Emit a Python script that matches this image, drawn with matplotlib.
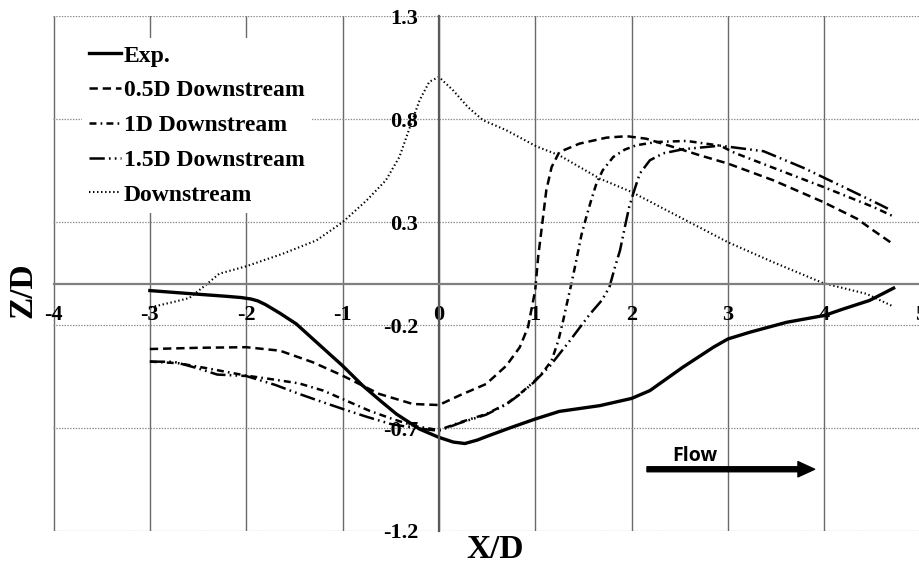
import matplotlib
matplotlib.use("Agg")
import matplotlib.pyplot as plt
import numpy as np

plt.rcParams['lines.scale_dashes'] = False

# ---------------- data ----------------
exp_x = [-3.0, -2.55, -2.2, -2.05, -1.95, -1.88, -1.8, -1.65, -1.48, -1.27, -1.0, -0.79, -0.6,
         -0.44, -0.2, 0.0, 0.15, 0.27, 0.4, 0.5, 0.75, 1.0, 1.25, 1.67, 2.0, 2.19, 2.53, 2.85,
         3.0, 3.23, 3.61, 4.0, 4.2, 4.47, 4.72]
exp_y = [-0.032, -0.048, -0.06, -0.066, -0.073, -0.082, -0.1, -0.142, -0.194, -0.283, -0.397,
         -0.494, -0.57, -0.632, -0.705, -0.745, -0.768, -0.775, -0.758, -0.74, -0.697, -0.656,
         -0.619, -0.591, -0.556, -0.518, -0.405, -0.307, -0.267, -0.234, -0.186, -0.153, -0.121,
         -0.08, -0.02]

d05_x = [-3.0, -2.5, -2.0, -1.65, -1.31, -1.0, -0.62, -0.27, 0.0, 0.22, 0.49, 0.70, 0.84,
         0.925, 1.0, 1.03, 1.06, 1.115, 1.17, 1.25, 1.46, 1.74, 1.95, 2.15, 2.43, 2.71, 3.0,
         3.47, 3.99, 4.34, 4.51, 4.72]
d05_y = [-0.316, -0.31, -0.307, -0.324, -0.38, -0.445, -0.534, -0.583, -0.588, -0.54, -0.486,
         -0.397, -0.307, -0.21, -0.03, 0.13, 0.244, 0.455, 0.568, 0.641, 0.682, 0.711, 0.718,
         0.706, 0.666, 0.625, 0.585, 0.504, 0.398, 0.317, 0.26, 0.192]

d1_x = [-3.0, -2.7, -2.4, -2.0, -1.7, -1.45, -1.2, -0.96, -0.72, -0.48, -0.25, 0.0, 0.22,
        0.49, 0.70, 0.84, 0.98, 1.08, 1.17, 1.24, 1.29, 1.32, 1.375, 1.43, 1.48, 1.53, 1.58,
        1.635, 1.70, 1.81, 1.93, 2.05, 2.26, 2.57, 2.92, 3.07, 3.54, 4.02, 4.51, 4.72]
d1_y = [-0.377, -0.385, -0.41, -0.445, -0.465, -0.483, -0.518, -0.567, -0.616, -0.656, -0.69,
        -0.71, -0.672, -0.632, -0.583, -0.534, -0.478, -0.429, -0.372, -0.275, -0.178, -0.113,
        0.0, 0.123, 0.239, 0.325, 0.406, 0.488, 0.552, 0.617, 0.653, 0.674, 0.69, 0.695, 0.672,
        0.637, 0.552, 0.466, 0.374, 0.328]

d15_x = [-3.0, -2.75, -2.5, -2.3, -2.0, -1.7, -1.45, -1.2, -0.96, -0.75, -0.5, -0.25, 0.0,
         0.22, 0.49, 0.70, 0.84, 0.98, 1.155, 1.36, 1.57, 1.69, 1.77, 1.825, 1.88, 1.93, 1.975,
         2.02, 2.085, 2.19, 2.33, 2.54, 2.92, 3.37, 3.78, 4.2, 4.58, 4.66]
d15_y = [-0.377, -0.378, -0.41, -0.44, -0.447, -0.49, -0.534, -0.575, -0.613, -0.645, -0.68,
         -0.70, -0.713, -0.675, -0.635, -0.585, -0.536, -0.48, -0.397, -0.275, -0.145, -0.08,
         -0.016, 0.078, 0.163, 0.276, 0.374, 0.443, 0.536, 0.601, 0.635, 0.655, 0.672, 0.645,
         0.565, 0.471, 0.385, 0.366]

ds_x = [-2.99, -2.76, -2.59, -2.42, -2.28, -2.0, -1.62, -1.27, -1.0, -0.75, -0.55, -0.41, -0.30,
        -0.20, -0.10, 0.0, 0.145, 0.30, 0.457, 0.70, 1.01, 1.25, 1.67, 2.0, 2.43, 3.0, 3.47,
        3.99, 4.44, 4.72]
ds_y = [-0.113, -0.088, -0.068, -0.005, 0.05, 0.086, 0.147, 0.212, 0.30, 0.406, 0.504, 0.617,
        0.763, 0.893, 0.982, 1.006, 0.942, 0.86, 0.796, 0.747, 0.669, 0.625, 0.512, 0.447,
        0.342, 0.203, 0.106, 0.004, -0.048, -0.11]

x_ticks = [-4, -3, -2, -1, 0, 1, 2, 3, 4, 5]
y_ticks = [-1.2, -0.7, -0.2, 0.3, 0.8, 1.3]
x_tick_labels = ['-4', '-3', '-2', '-1', '0', '1', '2', '3', '4', '5']
y_tick_labels = ['-1.2', '-0.7', '-0.2', '0.3', '0.8', '1.3']

labels = ['Exp.', '0.5D Downstream', '1D Downstream', '1.5D Downstream', 'Downstream']

arrow_start = (2.16, -0.90)
arrow_end = (3.90, -0.90)
flow_text_pos = (2.66, -0.835)

# ---------------- figure ----------------
serif = ['Liberation Serif', 'DejaVu Serif']
fig = plt.figure(figsize=(9.2, 5.65), dpi=100)
ax = fig.add_axes([53.5 / 920, 1 - 531 / 565, (920.6 - 53.5) / 920, (531 - 16.4) / 565])

ax.set_xlim(-4, 5)
ax.set_ylim(-1.2, 1.3)

ax.set_axisbelow(True)
ax.xaxis.grid(True, color='#6a6a6a', lw=1.0, ls='-')
ax.yaxis.grid(True, color='#8a8a8a', lw=0.9, ls=(0, (1, 1)))

for s in ['top', 'right']:
    ax.spines[s].set_visible(False)
ax.spines['left'].set_position(('data', 0))
ax.spines['bottom'].set_position(('data', 0))
ax.spines['left'].set_color('#5a5a5a')
ax.spines['left'].set_linewidth(1.6)
ax.spines['bottom'].set_color('#7f7f7f')
ax.spines['bottom'].set_linewidth(1.6)

ax.set_xticks(x_ticks)
ax.set_xticklabels(x_tick_labels)
ax.set_yticks(y_ticks)
ax.set_yticklabels(y_tick_labels)
ax.tick_params(length=0, pad=15)
for t in ax.get_xticklabels() + ax.get_yticklabels():
    t.set_family(serif)
    t.set_fontweight('bold')
    t.set_fontsize(16)

lw = 1.8
ax.plot(exp_x, exp_y, color='black', lw=2.4, ls='-', label=labels[0])
ax.plot(d05_x, d05_y, color='black', lw=lw, ls=(0, (6, 3.5)), label=labels[1])
ax.plot(d1_x, d1_y, color='black', lw=lw, ls=(0, (5, 3, 1.2, 3)), label=labels[2])
ax.plot(d15_x, d15_y, color='black', lw=lw, ls=(0, (11, 3, 1.2, 3, 1.2, 3)), label=labels[3])
ax.plot(ds_x, ds_y, color='black', lw=1.5, ls=(0, (1, 1.9)), label=labels[4])

leg = ax.legend(loc='upper left', bbox_to_anchor=((82 - 53.5) / 866.9, 1 - (38 - 16.4) / 514.6),
                borderaxespad=0, frameon=True, fancybox=False, edgecolor='none',
                facecolor='white', framealpha=1, handlelength=1.35, handletextpad=0.12,
                labelspacing=0.56, borderpad=0.3,
                prop=dict(family=serif, weight='bold', size=17))

ax.annotate('', xy=arrow_end, xytext=arrow_start,
            arrowprops=dict(facecolor='black', edgecolor='black', width=3.6,
                            headwidth=11, headlength=12, shrink=0))
ax.text(flow_text_pos[0], flow_text_pos[1], 'Flow', ha='center', va='center',
        family=['Open Sans', 'DejaVu Sans'], fontweight='bold', fontsize=14)

fig.text(23 / 920, 1 - 290 / 565, 'Z/D', rotation=90, ha='center', va='center',
         family=serif, fontweight='bold', fontsize=24)
fig.text(495 / 920, 1 - 550 / 565, 'X/D', ha='center', va='center',
         family=serif, fontweight='bold', fontsize=24)

fig.savefig('out.png', dpi=100)
